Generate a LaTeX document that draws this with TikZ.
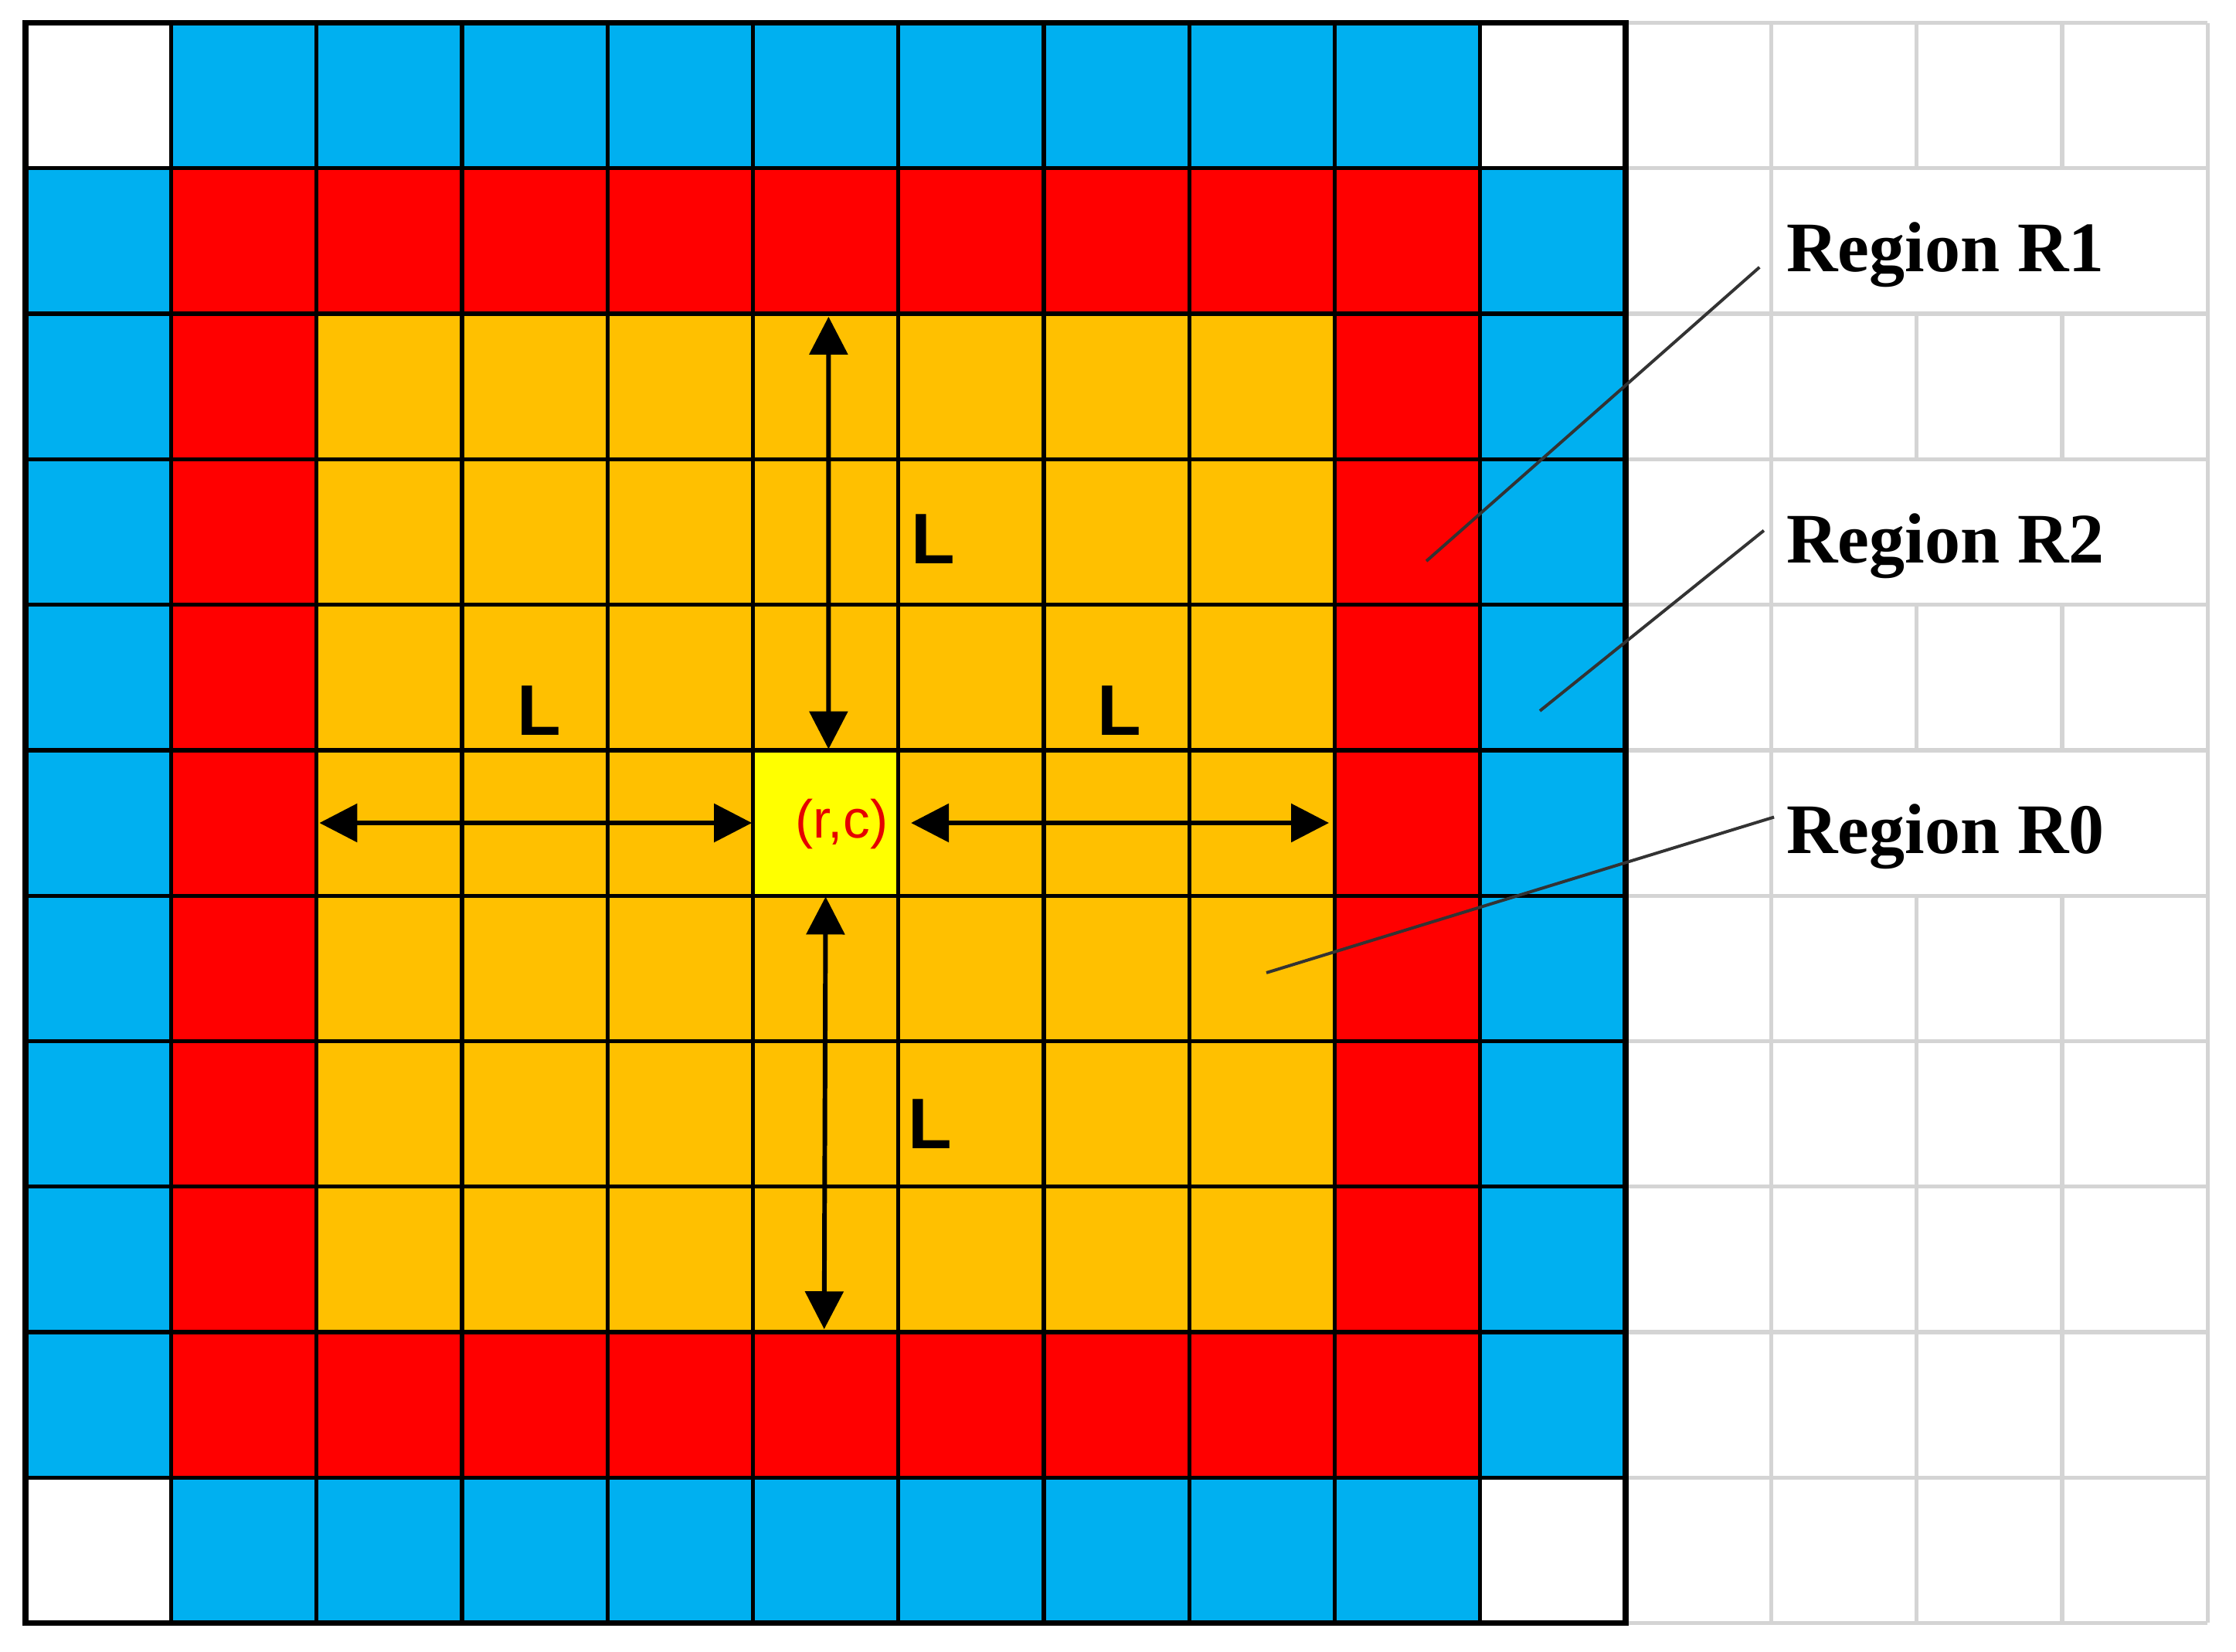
\documentclass[tikz,border=0pt]{standalone}
\usepackage{fontspec}
\setmainfont{Liberation Serif}
\setsansfont{Liberation Sans}
\usepackage{xcolor}
\usepackage{tikz}
\usetikzlibrary{arrows.meta}
\definecolor{ringblue}{HTML}{00B0F0}
\definecolor{ringred}{HTML}{FF0000}
\definecolor{coreorange}{HTML}{FFC000}
\definecolor{centreyellow}{HTML}{FFFF00}

\begin{document}
\begin{tikzpicture}[
    cellgrid/.style={line width=0.8pt},
    sheetgrid/.style={line width=0.8pt,color=black!17},
    span/.style={line width=0.9pt,{Triangle[length=2.6mm,width=2.6mm]}-{Triangle[length=2.6mm,width=2.6mm]}},
    lenlabel/.style={font=\sffamily\bfseries\fontsize{14}{16}\selectfont,inner sep=0pt},
    rclabel/.style={font=\sffamily\fontsize{10.5}{12}\selectfont,text=red!90!black,inner sep=0pt},
    regionlabel/.style={font=\bfseries\fontsize{13.9}{16}\selectfont,inner sep=0pt,anchor=base west},
    leader/.style={line width=0.6pt,color=black!80}]
    \useasboundingbox (-0.176,-0.196) rectangle (15.196,11.157);
    % empty sheet cells on the right
    \foreach \y in {0,...,11}
        \draw[sheetgrid] (11,\y) -- (15,\y);
    \foreach \x in {12,15}
        \draw[sheetgrid] (\x,0) -- (\x,11);
    \foreach \x in {13,14}
        \foreach \y in {0,1,2,3,4,6,8,10}
            \draw[sheetgrid] (\x,\y) -- (\x,\y+1);
    % regions R2, R1, R0
    \fill[ringblue] (1,0) rectangle (10,11);
    \fill[ringblue] (0,1) rectangle (11,10);
    \fill[ringred] (1,1) rectangle (10,10);
    \fill[coreorange] (2,2) rectangle (9,9);
    \node[fill=centreyellow,minimum size=1cm,inner sep=0pt] (centre) at (5.5,5.5) {};
    \draw[cellgrid] (0,0) grid (11,11);
    \draw[line width=1.1pt] (0,0) rectangle (11,11);
    \node[rclabel] (rc) at (5.61,5.49) {(r,c)};
    % distances L
    \coordinate (top) at (5.52,8.98);
    \coordinate (bottom) at (5.49,2.02);
    \coordinate (left) at (2.02,5.5);
    \coordinate (right) at (8.96,5.5);
    \draw[span] ([xshift=0.2mm]centre.north) -- (top);
    \draw[span] (centre.south) -- (bottom);
    \draw[span] (centre.west) -- (left);
    \draw[span] ([xshift=0.8mm]centre.east) -- (right);
    \node[lenlabel] (Ltop) at (6.24,7.45) {L};
    \node[lenlabel] (Lleft) at (3.53,6.27) {L};
    \node[lenlabel] (Lright) at (7.52,6.27) {L};
    \node[lenlabel] (Lbottom) at (6.22,3.43) {L};
    % region names
    \node[regionlabel] (r1) at (12.1,9.29) {Region R1};
    \node[regionlabel] (r2) at (12.1,7.29) {Region R2};
    \node[regionlabel] (r0) at (12.1,5.29) {Region R0};
    \coordinate (r1foot) at (9.63,7.30);
    \coordinate (r2foot) at (10.41,6.27);
    \coordinate (r0foot) at (8.53,4.47);
    \draw[leader] (r1foot) -- ([shift={(-0.18,0.03)}]r1.base west);
    \draw[leader] (r2foot) -- ([shift={(-0.15,0.22)}]r2.base west);
    \draw[leader] (r0foot) -- ([shift={(-0.08,0.25)}]r0.base west);
\end{tikzpicture}
\end{document}
